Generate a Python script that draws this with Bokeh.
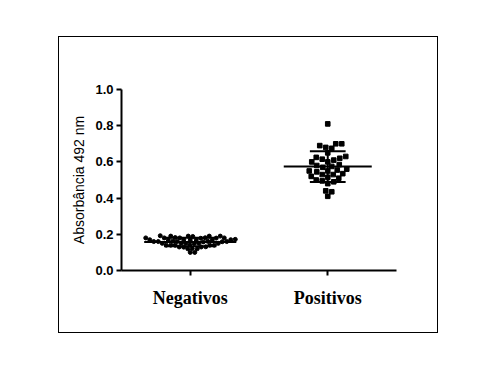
import numpy as np
from bokeh.plotting import figure
from bokeh.models import Range1d, FixedTicker, NumeralTickFormatter
from bokeh.embed import file_html
from bokeh.resources import INLINE

categories = ["Negativos", "Positivos"]
tick_values = [0.0, 0.2, 0.4, 0.6, 0.8, 1.0]

negativos = [0.19, 0.19, 0.19, 0.192, 0.188, 0.19,
             0.18, 0.18, 0.182, 0.178, 0.18, 0.18, 0.181, 0.179,
             0.17, 0.17, 0.171, 0.169, 0.17, 0.17, 0.172, 0.168,
             0.16, 0.16, 0.161, 0.159, 0.16, 0.16, 0.162, 0.158,
             0.15, 0.15, 0.151, 0.149, 0.15, 0.15,
             0.14, 0.14, 0.141, 0.139, 0.14, 0.14,
             0.13, 0.13, 0.131, 0.129,
             0.12, 0.12, 0.121,
             0.10, 0.10]

positivos = [0.81, 0.70, 0.69, 0.70, 0.68, 0.675, 0.65, 0.63, 0.62, 0.61,
             0.625, 0.60, 0.615, 0.60, 0.58, 0.575, 0.585, 0.57, 0.55, 0.555,
             0.56, 0.545, 0.55, 0.53, 0.53, 0.52, 0.535, 0.51, 0.515, 0.49,
             0.495, 0.50, 0.48, 0.44, 0.435, 0.41]

# pixel scales of the plot frame (used only to lay the swarm out)
XPX = 137.5
YPX = 181.6


def swarm(vals, center, d):
    vals = np.asarray(vals, dtype=float)
    order = np.argsort(vals)
    offs = [0.0]
    for j in range(1, 400):
        offs += [j * 0.5, -j * 0.5]
    placed = []
    xs = np.zeros(len(vals))
    for i in order:
        y = vals[i] * YPX
        for o in offs:
            ok = True
            for (px, py) in placed:
                if (o - px) ** 2 + (y - py) ** 2 < d * d:
                    ok = False
                    break
            if ok:
                placed.append((o, y))
                xs[i] = center + o / XPX
                break
    return xs, vals


p = figure(width=380, height=297, output_backend="svg", toolbar_location=None,
           x_range=Range1d(0.5, 2.5), y_range=Range1d(0.0, 1.0),
           min_border_left=62, min_border_right=43, min_border_top=52,
           min_border_bottom=64, margin=(36, 0, 0, 58),
           styles={"border": "1px solid black"})
p.grid.visible = False
p.outline_line_color = None
p.background_fill_color = "white"
p.border_fill_color = "white"

nx, ny = swarm(negativos, 1, 4.3)
px_, py_ = swarm(positivos, 2, 5.8)

p.scatter(nx, ny, marker="circle", size=4.0, color="black")
p.scatter(px_, py_, marker="square", size=4.6, color="black")

# mean and SD lines computed from the data
for c, vals, mw, sw in [(1, negativos, 0.335, 0.19), (2, positivos, 0.32, 0.13)]:
    m = float(np.mean(vals))
    s = float(np.std(vals, ddof=1))
    p.segment(x0=[c - mw], x1=[c + mw], y0=[m], y1=[m], line_color="black", line_width=2)
    p.segment(x0=[c - sw, c - sw], x1=[c + sw, c + sw], y0=[m - s, m + s], y1=[m - s, m + s],
              line_color="black", line_width=2)
    p.segment(x0=[c], x1=[c], y0=[m - s], y1=[m + s], line_color="black", line_width=2)

p.xaxis.ticker = FixedTicker(ticks=[1, 2])
p.xaxis.major_label_overrides = {1: categories[0], 2: categories[1]}
p.xaxis.major_label_text_font = "Liberation Serif"
p.xaxis.major_label_text_font_style = "bold"
p.xaxis.major_label_text_font_size = "18px"
p.xaxis.major_label_text_color = "black"
p.xaxis.major_label_standoff = 12
p.xaxis.minor_tick_line_color = None

p.yaxis.ticker = FixedTicker(ticks=tick_values)
p.yaxis.formatter = NumeralTickFormatter(format="0.0")
p.yaxis.major_label_text_font = "Liberation Sans"
p.yaxis.major_label_text_font_style = "bold"
p.yaxis.major_label_text_font_size = "13px"
p.yaxis.major_label_text_color = "black"
p.yaxis.major_label_standoff = 3
p.yaxis.axis_label = "Absorbância 492 nm"
p.yaxis.axis_label_text_font = "Liberation Sans"
p.yaxis.axis_label_text_font_style = "normal"
p.yaxis.axis_label_text_font_size = "14px"
p.yaxis.axis_label_text_color = "black"
p.yaxis.axis_label_standoff = 5

for ax in (p.xaxis, p.yaxis):
    ax.axis_line_width = 2
    ax.axis_line_color = "black"
    ax.major_tick_line_width = 2
    ax.major_tick_line_color = "black"
    ax.major_tick_in = 0
    ax.major_tick_out = 5
    ax.minor_tick_line_color = None

open("out.html", "w").write(file_html(p, INLINE))
